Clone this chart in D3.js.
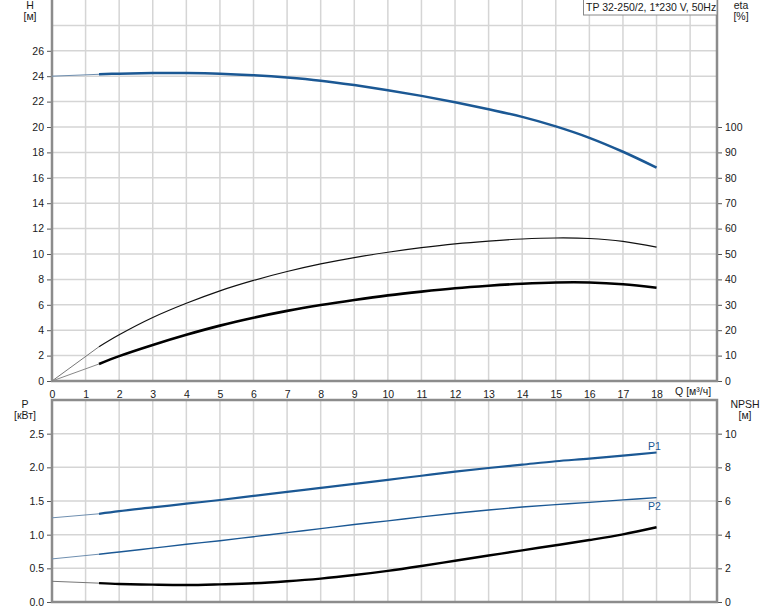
<!DOCTYPE html>
<html><head><meta charset="utf-8">
<script src="https://cdn.jsdelivr.net/npm/d3@7"></script>
<style>
html,body{margin:0;padding:0;background:#fff;}
svg{display:block;font-family:"Liberation Sans",Arial,sans-serif;}
</style></head>
<body>
<svg id="chart" width="774" height="611"></svg>
<script>
// ---- data ----
const flowQ = [0,1.4,2,3,4,5,6,7,8,9,10,11,12,13,14,15,16,17,18];
const headH = [24.0,24.15,24.2,24.25,24.25,24.2,24.08,23.9,23.65,23.3,22.9,22.45,21.95,21.4,20.8,20.05,19.15,18.05,16.8];
const etaPump = [0,13.5,18.2,25.0,30.6,35.5,39.6,43.1,46.1,48.6,50.7,52.5,54.0,55.1,55.9,56.3,56.1,55.0,52.7];
const etaTotal = [0,6.7,9.8,14.2,18.2,21.8,24.9,27.6,29.9,31.9,33.7,35.2,36.5,37.5,38.3,38.8,38.8,38.1,36.7];
const powerP1 = [1.25,1.31,1.35,1.405,1.46,1.515,1.575,1.635,1.695,1.755,1.815,1.875,1.935,1.99,2.04,2.09,2.13,2.175,2.22];
const powerP2 = [0.64,0.71,0.743,0.80,0.857,0.91,0.97,1.03,1.09,1.15,1.205,1.265,1.318,1.367,1.41,1.446,1.48,1.516,1.55];
const npsh = [1.23,1.12,1.07,1.03,1.01,1.05,1.11,1.23,1.39,1.60,1.85,2.14,2.45,2.76,3.07,3.37,3.68,4.02,4.44];
const qTicks = [0,1,2,3,4,5,6,7,8,9,10,11,12,13,14,15,16,17,18];
const hTicks = [0,2,4,6,8,10,12,14,16,18,20,22,24,26];
const etaTicks = [0,10,20,30,40,50,60,70,80,90,100];
const pTicks = [0,0.5,1.0,1.5,2.0,2.5];
const npshTicks = [0,2,4,6,8,10];
const titleText = "TP 32-250/2, 1*230 V, 50Hz";

// ---- layout ----
const svg = d3.select("#chart");
const L = 52, R = 717;
const topY0 = 0, topY1 = 381, botY0 = 400, botY1 = 602;
const x = d3.scaleLinear().domain([0,19.8]).range([L,R]);
const yH = d3.scaleLinear().domain([0,30]).range([topY1,topY0]);
const yEta = d3.scaleLinear().domain([0,150]).range([topY1,topY0]);
const yP = d3.scaleLinear().domain([0,3]).range([botY1,botY0]);
const yN = d3.scaleLinear().domain([0,12]).range([botY1,botY0]);

const gridC = "#d5d5d5", axisC = "#8c8c8c", textC = "#1a1a1a", blue = "#1b5894";

// grids
const g = svg.append("g");
const vq = d3.range(1,20);
g.selectAll(".vt").data(vq).join("line").attr("x1",d=>x(d)).attr("x2",d=>x(d))
  .attr("y1",topY0).attr("y2",topY1).attr("stroke",gridC).attr("stroke-width",1.5);
g.selectAll(".vb").data(vq).join("line").attr("x1",d=>x(d)).attr("x2",d=>x(d))
  .attr("y1",botY0).attr("y2",botY1).attr("stroke",gridC).attr("stroke-width",1.5);
g.selectAll(".ht").data(d3.range(2,30,2)).join("line").attr("x1",L).attr("x2",R)
  .attr("y1",d=>yH(d)).attr("y2",d=>yH(d)).attr("stroke",gridC).attr("stroke-width",1.5);
g.selectAll(".hb").data([0.5,1,1.5,2,2.5]).join("line").attr("x1",L).attr("x2",R)
  .attr("y1",d=>yP(d)).attr("y2",d=>yP(d)).attr("stroke",gridC).attr("stroke-width",1.5);

// axes
function styleAxis(sel){
  sel.select(".domain").remove();
  sel.selectAll(".tick line").attr("stroke","#555").attr("stroke-width",1);
  sel.selectAll(".tick text").attr("fill",textC).style("font-size","10.5px").style("font-family",'"Liberation Sans",Arial,sans-serif');
}
svg.append("g").attr("transform",`translate(${L},0)`)
  .call(d3.axisLeft(yH).tickValues(hTicks).tickSize(5).tickPadding(3)).call(styleAxis);
svg.append("g").attr("transform",`translate(${R},0)`)
  .call(d3.axisRight(yEta).tickValues(etaTicks).tickSize(5).tickPadding(3)).call(styleAxis);
svg.append("g").attr("transform",`translate(${L},0)`)
  .call(d3.axisLeft(yP).tickValues(pTicks).tickSize(5).tickPadding(3).tickFormat(d3.format(".1f"))).call(styleAxis);
svg.append("g").attr("transform",`translate(${R},0)`)
  .call(d3.axisRight(yN).tickValues(npshTicks).tickSize(5).tickPadding(3)).call(styleAxis);
svg.append("g").attr("transform",`translate(0,${topY1})`)
  .call(d3.axisBottom(x).tickValues(qTicks).tickSize(0).tickPadding(10)).call(styleAxis);
svg.append("text").attr("x",x(19)+3).attr("y",395).attr("text-anchor","middle")
  .attr("fill",textC).style("font-size","10.5px").text("Q [м³/ч]");

// frame lines
const fr = svg.append("g").attr("stroke",axisC).attr("stroke-width",2.5).attr("fill","none");
fr.append("line").attr("x1",L).attr("x2",L).attr("y1",topY0).attr("y2",topY1+1);
fr.append("line").attr("x1",R).attr("x2",R).attr("y1",topY0).attr("y2",topY1+1);
fr.append("line").attr("x1",L-1).attr("x2",R+1).attr("y1",topY1).attr("y2",topY1);
fr.append("rect").attr("x",L).attr("y",botY0).attr("width",R-L).attr("height",botY1-botY0);

// axis titles
function lab(t,xx,yy){svg.append("text").attr("x",xx).attr("y",yy).attr("text-anchor","middle")
  .attr("fill",textC).style("font-size","10.5px").text(t);}
lab("H",30,9); lab("[м]",30,20);
lab("eta",741,9); lab("[%]",741,20);
lab("P",25,408); lab("[кВт]",25,419);
lab("NPSH",745,408); lab("[м]",745,419);

// curves
function drawCurve(vals, ys, color, width, leadColor){
  const pts = flowQ.map((q,i)=>[x(q), ys(vals[i])]);
  const line = d3.line().curve(d3.curveCatmullRom.alpha(0.5));
  svg.append("path").attr("d",d3.line()(pts.slice(0,2))).attr("fill","none")
    .attr("stroke",leadColor).attr("stroke-width",1);
  svg.append("path").attr("d",line(pts.slice(1))).attr("fill","none")
    .attr("stroke",color).attr("stroke-width",width).attr("stroke-linecap","butt");
}
drawCurve(headH, yH, blue, 2.5, "#6f8fb0");
drawCurve(etaPump, yEta, "#111", 1.2, "#777");
drawCurve(etaTotal, yEta, "#000", 2.6, "#888");
drawCurve(powerP1, yP, blue, 2.2, "#6f8fb0");
drawCurve(powerP2, yP, blue, 1.4, "#6f8fb0");
drawCurve(npsh, yN, "#000", 2.4, "#777");

svg.append("text").attr("x",x(18)-2).attr("y",450).attr("text-anchor","middle")
  .attr("fill",blue).style("font-size","10.5px").text("P1");
svg.append("text").attr("x",x(18)-2).attr("y",510).attr("text-anchor","middle")
  .attr("fill",blue).style("font-size","10.5px").text("P2");

// title box
svg.append("rect").attr("x",583.5).attr("y",-1).attr("width",R-583.5).attr("height",16)
  .attr("fill","#fff").attr("stroke","#888").attr("stroke-width",1);
svg.append("text").attr("x",586).attr("y",11).attr("fill",textC).style("font-size","10.5px").text(titleText);
</script>
</body></html>
